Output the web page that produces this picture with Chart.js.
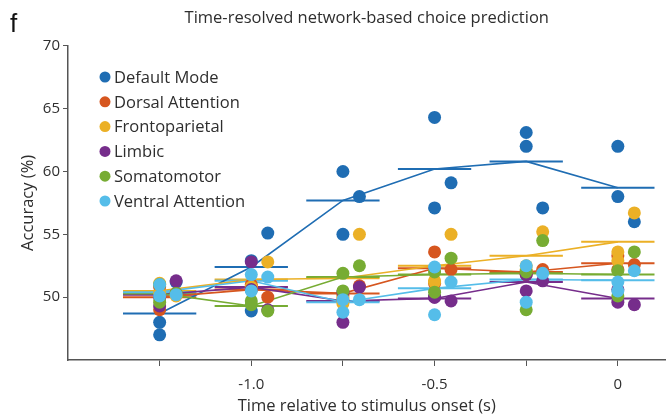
<!DOCTYPE html>
<html>
<head>
<meta charset="utf-8">
<script src="https://cdn.jsdelivr.net/npm/chart.js@4.4.1/dist/chart.umd.min.js"></script>
<style>
  html, body { margin: 0; padding: 0; background: #fff; }
  #wrap { width: 672px; height: 416px; }
</style>
</head>
<body>
<div id="wrap"><canvas id="myChart"></canvas></div>
<script>
// time bins (s, relative to stimulus onset)
const times = [-1.25, -1.0, -0.75, -0.5, -0.25, 0];
const xTickLabels = ['', '-1.0', '', '-0.5', '', '0'];
const yTicks = [50, 55, 60, 65, 70];

const networks = ['Default Mode', 'Dorsal Attention', 'Frontoparietal', 'Limbic', 'Somatomotor', 'Ventral Attention'];
const colors = ['#1f6db3', '#d6561f', '#ebb026', '#762d8b', '#77ac33', '#55bde9'];

// mean accuracy per time bin (%)
const meanDefault    = [48.7, 52.4, 57.7, 60.2, 60.8, 58.7];
const meanDorsal     = [50.0, 50.6, 50.3, 52.3, 52.0, 52.7];
const meanFrontopar  = [50.5, 51.4, 51.5, 52.5, 53.3, 54.4];
const meanLimbic     = [50.2, 50.8, 49.7, 49.9, 51.2, 49.9];
const meanSomatomot  = [50.3, 49.3, 51.6, 51.8, 51.9, 51.8];
const meanVentral    = [50.4, 51.3, 49.6, 50.7, 51.4, 51.35];

// single values per time bin: [first, second, third (drawn slightly right)]
const dotsDefault   = [[48.0, 47.0, 51.2], [48.9, 52.9, 55.1], [60.0, 55.0, 58.0], [64.3, 57.1, 59.1], [63.1, 62.0, 57.1], [62.0, 58.0, 56.0]];
const dotsDorsal    = [[49.0, 50.8, 50.3], [51.0, 50.8, 50.0], [50.2, 49.8, 50.9], [53.6, 51.1, 52.2], [52.0, 51.8, 52.2], [53.3, 52.2, 52.6]];
const dotsFrontopar = [[51.1, 50.3, 50.1], [50.8, 50.6, 52.8], [50.0, 49.5, 55.0], [51.3, 51.2, 55.0], [52.5, 52.2, 55.2], [53.6, 52.9, 56.7]];
const dotsLimbic    = [[50.0, 49.3, 51.3], [52.8, 50.6, 49.0], [50.4, 48.0, 50.8], [50.0, 50.0, 49.7], [50.5, 51.8, 51.3], [49.6, 50.6, 49.4]];
const dotsSomatomot = [[51.0, 49.6, 50.3], [49.4, 49.7, 48.9], [51.9, 50.5, 52.5], [52.0, 50.4, 53.1], [52.0, 49.0, 54.5], [52.1, 50.1, 53.6]];
const dotsVentral   = [[50.1, 51.0, 50.2], [51.8, 50.5, 51.6], [49.8, 48.8, 49.8], [52.4, 48.6, 51.2], [52.5, 49.6, 51.9], [51.2, 50.5, 52.1]];

const means = [meanDefault, meanDorsal, meanFrontopar, meanLimbic, meanSomatomot, meanVentral];
const dots = [dotsDefault, dotsDorsal, dotsFrontopar, dotsLimbic, dotsSomatomot, dotsVentral];

const SHIFT = [0, 0, 0.045];  // horizontal offset of the single values
const HALF = 0.1;             // half width of the mean bars
const FONT = '"Open Sans", "DejaVu Sans", sans-serif';
const TEXT = '#2e2e2e';

let datasets = [];
networks.forEach(function(name, k) {
	let c = colors[k];
	let pts = [];
	dots[k].forEach(function(trio, i) {
		trio.forEach(function(v, j) { pts.push({x: times[i] + SHIFT[j], y: v}); });
	});
	datasets.push({
		type: 'scatter', label: name, data: pts,
		backgroundColor: c, borderColor: c, borderWidth: 0,
		pointRadius: 6.5, order: 5 - k
	});
	// line through the means
	datasets.push({
		type: 'line', label: name + ' mean', showLine: true,
		data: times.map(function(t, i) { return {x: t, y: means[k][i]}; }),
		borderColor: c, borderWidth: 1.6, pointRadius: 0, tension: 0, fill: false,
		order: 20 - k
	});
	// short horizontal mean bars
	let seg = [];
	times.forEach(function(t, i) {
		seg.push({x: t - HALF, y: means[k][i]}, {x: t + HALF, y: means[k][i]}, {x: t + HALF, y: null});
	});
	datasets.push({
		type: 'line', label: name + ' bar', showLine: true, data: seg,
		borderColor: c, borderWidth: 2, pointRadius: 0, spanGaps: false, fill: false,
		order: 30 - k
	});
});

// legend inside the axes + panel letter
const extras = {
	id: 'extras',
	afterDraw: function(chart) {
		const ctx = chart.ctx;
		const a = chart.chartArea;
		ctx.save();
		ctx.textBaseline = 'middle';
		ctx.font = '16.5px ' + FONT;
		networks.forEach(function(n, k) {
			let y = 77 + k * 24.8;
			ctx.fillStyle = colors[k];
			ctx.beginPath();
			ctx.arc(a.left + 37, y, 5.5, 0, Math.PI * 2);
			ctx.fill();
			ctx.fillStyle = TEXT;
			ctx.fillText(n, a.left + 46, y + 1);
		});
		ctx.font = '26px "Liberation Sans", sans-serif';
		ctx.fillStyle = '#111';
		ctx.textBaseline = 'alphabetic';
		ctx.fillText('f', 10, 32);
		ctx.restore();
	}
};

var ctx = document.getElementById('myChart').getContext('2d');
var myChart = new Chart(ctx, {
	type: 'scatter',
	data: { datasets: datasets },
	plugins: [extras],
	options: {
		responsive: true,
		maintainAspectRatio: false,
		animation: false,
		layout: { padding: 0 },
		plugins: {
			legend: { display: false },
			tooltip: { enabled: false },
			title: {
				display: true, fullSize: false,
				text: 'Time-resolved network-based choice prediction',
				color: TEXT, font: { family: FONT, size: 16.5, weight: 'normal' },
				padding: { top: 8, bottom: 18 }
			}
		},
		scales: {
			x: {
				type: 'linear', min: -1.5, max: 0.13,
				afterBuildTicks: function(s) { s.ticks = times.map(function(v) { return {value: v}; }); },
				afterFit: function(s) { s.height = 56; },
				ticks: {
					callback: function(v, i) { return xTickLabels[i]; },
					color: TEXT, font: { family: FONT, size: 15 }, padding: 10,
					maxRotation: 0, autoSkip: false
				},
				grid: { drawOnChartArea: false, drawTicks: true, tickLength: 6, color: '#555' },
				border: { color: '#555', width: 1.5 },
				title: {
					display: true, text: 'Time relative to stimulus onset (s)',
					color: TEXT, font: { family: FONT, size: 16.5 }, padding: { top: 4, bottom: 0 }
				}
			},
			y: {
				min: 45, max: 70,
				afterBuildTicks: function(s) { s.ticks = yTicks.map(function(v) { return {value: v}; }); },
				afterFit: function(s) { s.width = 68; },
				ticks: { color: TEXT, font: { family: FONT, size: 15 }, padding: 3 },
				grid: { drawOnChartArea: false, drawTicks: true, tickLength: 5, color: '#555' },
				border: { color: '#555', width: 1.5 },
				title: {
					display: true, text: 'Accuracy (%)',
					color: TEXT, font: { family: FONT, size: 16.5 }, padding: { top: 18, bottom: 0 }
				}
			}
		}
	}
});
</script>
</body>
</html>
